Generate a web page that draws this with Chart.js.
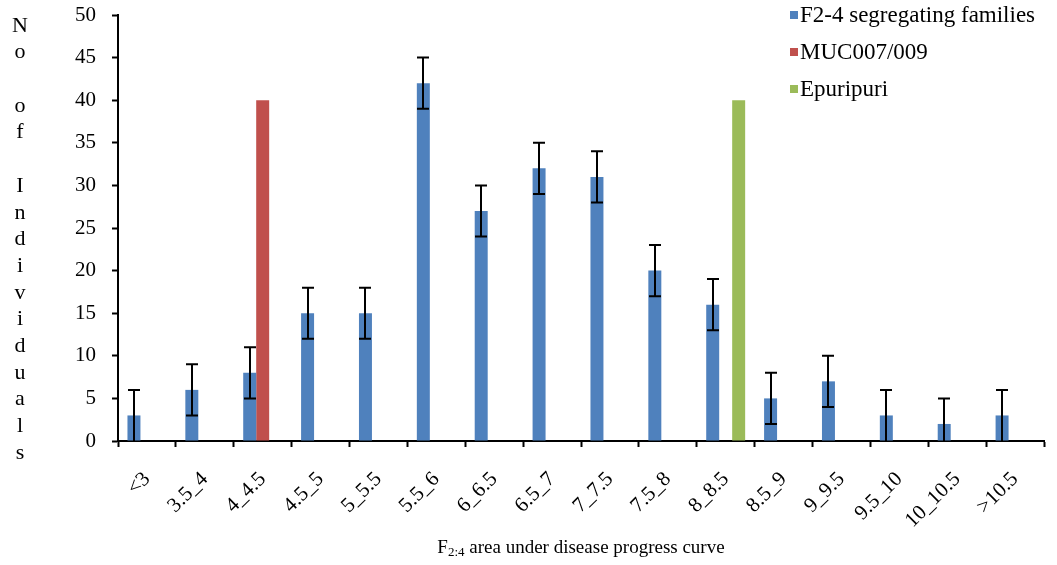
<!DOCTYPE html>
<html><head><meta charset="utf-8">
<script src="https://cdn.jsdelivr.net/npm/chart.js@4"></script>
<style>
body{margin:0;background:#fff}
#wrap{position:relative;width:1057px;height:565px;font-family:"Liberation Serif","Times New Roman",serif;color:#000}
#c{position:absolute;left:0;top:0}
#ytitle{position:absolute;left:5px;top:11.6px;width:30px;text-align:center;font-size:22px;line-height:26.7px}
#legend{position:absolute;left:790px;top:0px;font-size:23px}
#legend .row{position:absolute;left:0;white-space:nowrap;height:26px;line-height:26px}
#legend .box{display:inline-block;width:8px;height:8px;margin-right:2px;vertical-align:middle;position:relative;top:-2px}
#xtitle{position:absolute;left:381px;width:400px;top:536px;text-align:center;font-size:19px;white-space:nowrap}
#xtitle sub{font-size:13px;vertical-align:-3px;line-height:0}
</style></head><body>
<div id="wrap"><canvas id="c" width="1057" height="565"></canvas>
<div id="ytitle"></div>
<div id="legend"></div>
<div id="xtitle">F<sub>2:4</sub> area under disease progress curve</div>
</div>
<script>
const categories = ["<3","3.5_4","4_4.5","4.5_5","5_5.5","5.5_6","6_6.5","6.5_7","7_7.5","7.5_8","8_8.5","8.5_9","9_9.5","9.5_10","10_10.5",">10.5"];
const seriesNames = ["F2-4 segregating families","MUC007/009","Epuripuri"];
const familiesValues = [3,6,8,15,15,42,27,32,31,20,16,5,7,3,2,3];
const familiesErrors = [3,3,3,3,3,3,3,3,3,3,3,3,3,3,3,3];
const mucValues = [null,null,40,null,null,null,null,null,null,null,null,null,null,null,null,null];
const epuValues = [null,null,null,null,null,null,null,null,null,null,40,null,null,null,null,null];
const yTicks = [0,5,10,15,20,25,30,35,40,45,50];
const yTitle = "No of Individuals";
const colors = ["#4F81BD","#C0504D","#9BBB59"];

document.getElementById('ytitle').innerHTML = yTitle.split('').map(ch => ch === ' ' ? '&nbsp;' : ch).join('<br>');
const legendTops = [2, 39, 76];
document.getElementById('legend').innerHTML = seriesNames.map((n,i) =>
  `<div class="row" style="top:${legendTops[i]}px"><span class="box" style="background:${colors[i]}"></span>${n}</div>`).join('');

const errorBars = {
  id: 'errorBars',
  afterDatasetsDraw(chart) {
    const meta = chart.getDatasetMeta(0);
    const y = chart.scales.y;
    const ctx = chart.ctx;
    ctx.save();
    ctx.strokeStyle = '#000';
    ctx.lineWidth = 2;
    meta.data.forEach((bar, i) => {
      const v = familiesValues[i], e = familiesErrors[i];
      if (v == null) return;
      const yt = y.getPixelForValue(v + e);
      const yb = y.getPixelForValue(Math.max(0, v - e));
      const x = Math.round(bar.x);
      ctx.beginPath();
      ctx.moveTo(x, yt); ctx.lineTo(x, yb);
      ctx.moveTo(x - 6, yt); ctx.lineTo(x + 6, yt);
      if (v - e > 0) { ctx.moveTo(x - 6, yb); ctx.lineTo(x + 6, yb); }
      ctx.stroke();
    });
    ctx.restore();
  }
};

const font = {family: '"Liberation Serif","Times New Roman",serif', size: 21};
new Chart(document.getElementById('c'), {
  type: 'bar',
  data: {
    labels: categories,
    datasets: [
      {label: seriesNames[0], data: familiesValues, backgroundColor: colors[0]},
      {label: seriesNames[1], data: mucValues, backgroundColor: colors[1]},
      {label: seriesNames[2], data: epuValues, backgroundColor: colors[2]}
    ]
  },
  options: {
    responsive: false,
    animation: false,
    layout: {padding: {top: 15, right: 13, left: 0, bottom: 0}},
    categoryPercentage: 0.673,
    barPercentage: 1,
    plugins: {legend: {display: false}, tooltip: {enabled: false}},
    scales: {
      x: {
        offset: true,
        grid: {offset: true, drawOnChartArea: false, color: '#000', tickLength: 6, tickWidth: 2},
        border: {color: '#000', width: 2},
        ticks: {color: '#000', font: font, minRotation: 45, maxRotation: 45, padding: 20, autoSkip: false},
        afterFit(s) { s.height = 124; s.paddingLeft = 0; s.paddingRight = 0; }
      },
      y: {
        min: 0, max: 50,
        afterBuildTicks(s) { s.ticks = yTicks.map(v => ({value: v})); },
        grid: {drawOnChartArea: false, color: '#000', tickLength: 6, tickWidth: 2},
        border: {color: '#000', width: 2},
        ticks: {color: '#000', font: font, padding: 16},
        afterFit(s) { s.width = 118; s.paddingTop = 0; s.paddingBottom = 0; }
      }
    }
  },
  plugins: [errorBars]
});
</script>
</body></html>
